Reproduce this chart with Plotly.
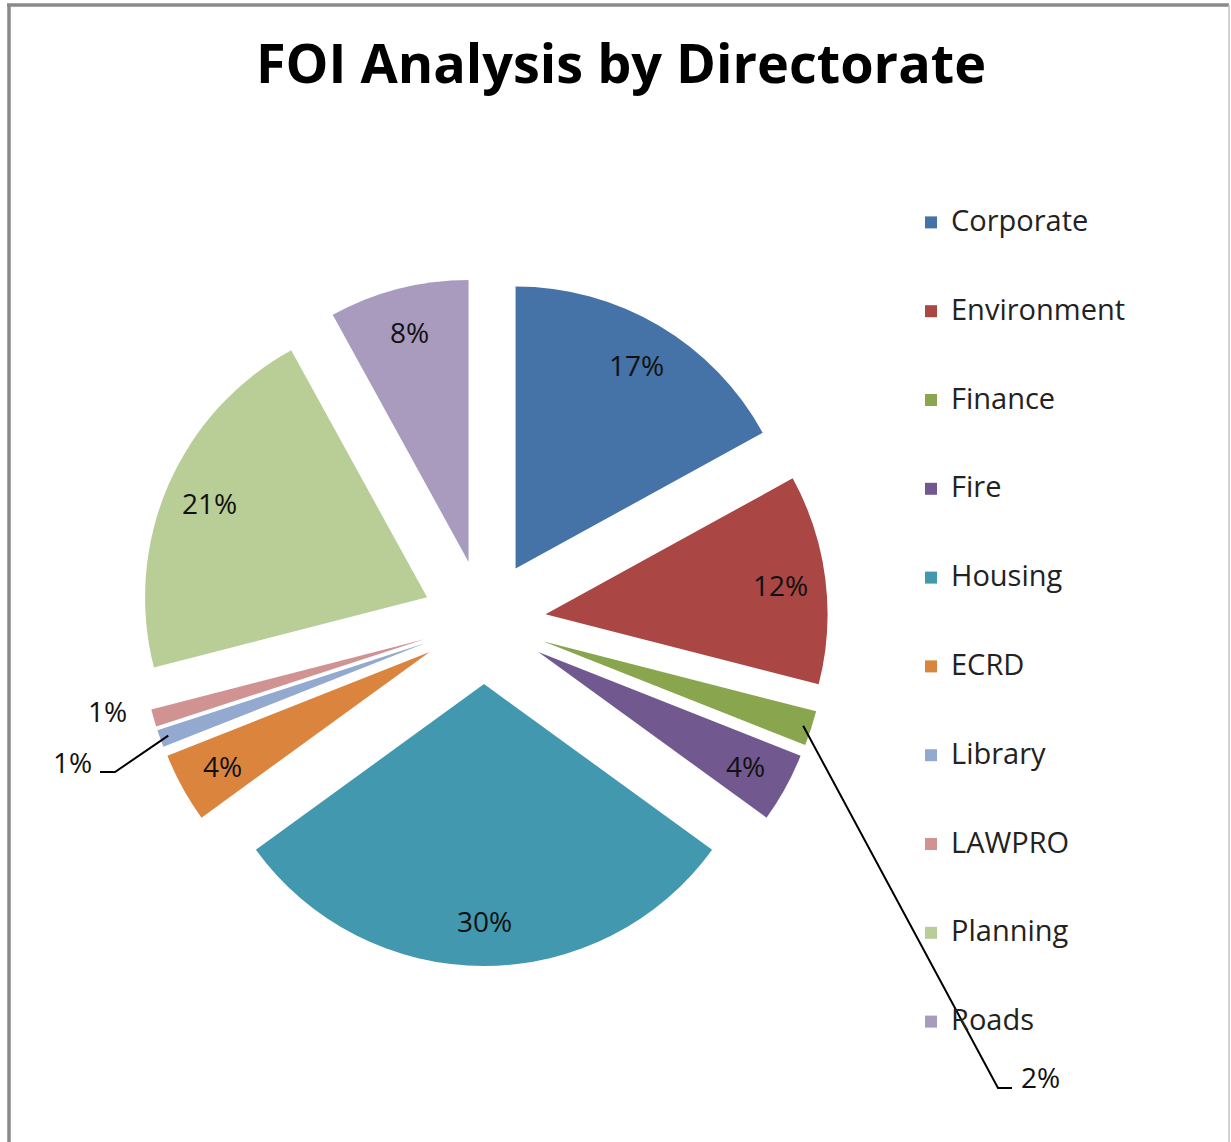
import math
import plotly.graph_objects as go

directorates = ["Corporate", "Environment", "Finance", "Fire", "Housing",
                "ECRD", "Library", "LAWPRO", "Planning", "Roads"]
share_pct = [17, 12, 2, 4, 30, 4, 1, 1, 21, 8]
slice_colors = ["#4572A7", "#AA4643", "#89A54E", "#71588F", "#4198AF",
                "#DB843D", "#93A9CF", "#D19392", "#B9CD96", "#A99BBD"]

# figure geometry in pixels (margins are zero, so paper == page)
W, H = 1231, 1142
PIE_CX, PIE_CY, PIE_R = 484, 622, 282
PULL = 0.22
LABEL_R = 0.84
FONT = "Open Sans"
LABEL_SIZE = 28

# labels Excel moved outside the thin slices: text position + leader elbow
outside_labels = {
    "Finance": dict(text_at=(1040, 1077), elbow=[(1012, 1088), (998, 1088)]),
    "Library": dict(text_at=(72, 762), elbow=[(100, 772), (115, 772)]),
    "LAWPRO": dict(text_at=(108, 711), elbow=None),
}


def px(x, y):
    return x / W, 1 - y / H


def slice_point(mid_deg, frac):
    # point along a slice's mid-angle, from the pie centre, incl. explosion
    d = PULL * PIE_R + frac * PIE_R
    a = math.radians(mid_deg)
    return PIE_CX + d * math.sin(a), PIE_CY - d * math.cos(a)


total = sum(share_pct)
span = 2 * PIE_R * (1 + PULL)
x0, y1 = px(PIE_CX - span / 2, PIE_CY - span / 2)
x1, y0 = px(PIE_CX + span / 2, PIE_CY + span / 2)

# blank lines above/below stretch the legend rows to Excel's spacing
legend_names = [
    f"&nbsp;<br><span style='font-size:29px'>{d}</span><br>&nbsp;"
    for d in directorates
]

fig = go.Figure(go.Pie(
    labels=legend_names,
    values=share_pct,
    sort=False,
    direction="clockwise",
    rotation=0,
    pull=[PULL] * len(share_pct),
    marker=dict(colors=slice_colors, line=dict(width=0)),
    textinfo="none",
    hoverinfo="skip",
    domain=dict(x=[x0, x1], y=[y0, y1]),
))

annotations = []
shapes = []
cum = 0
for name, v in zip(directorates, share_pct):
    mid = (cum + v / 2) / total * 360
    cum += v
    label = f"{round(v / total * 100)}%"
    if name in outside_labels:
        spec = outside_labels[name]
        lx, ly = spec["text_at"]
        if spec["elbow"]:
            tipx, tipy = slice_point(mid, 0.97)
            pts = spec["elbow"] + [(tipx, tipy)]
            path = "M " + " L ".join(
                f"{px(x, y)[0]:.5f},{px(x, y)[1]:.5f}" for x, y in pts)
            shapes.append(dict(type="path", path=path, xref="paper", yref="paper",
                               line=dict(color="black", width=2)))
    else:
        lx, ly = slice_point(mid, LABEL_R)
    ax_, ay_ = px(lx, ly)
    annotations.append(dict(x=ax_, y=ay_, xref="paper", yref="paper",
                            xanchor="center", yanchor="middle",
                            text=label, showarrow=False,
                            font=dict(size=LABEL_SIZE, color="#111", family=FONT)))

# chart-area border (left/top darker as in the source image)
top = px(0, 5)[1]
shapes.append(dict(type="line", xref="paper", yref="paper",
                   x0=px(9, 0)[0], x1=px(9, 0)[0], y0=top, y1=-0.05,
                   line=dict(color="#8a8a8a", width=3.5)))
shapes.append(dict(type="line", xref="paper", yref="paper",
                   x0=px(7, 0)[0], x1=px(1229, 0)[0], y0=top, y1=top,
                   line=dict(color="#8a8a8a", width=3.5)))
shapes.append(dict(type="line", xref="paper", yref="paper",
                   x0=px(1229, 0)[0], x1=px(1229, 0)[0], y0=top, y1=-0.05,
                   line=dict(color="#c4c4c4", width=1.5)))

lx0, ly0 = px(911, 173)
fig.update_layout(
    width=W, height=H,
    margin=dict(l=0, r=0, t=0, b=0),
    paper_bgcolor="white",
    plot_bgcolor="white",
    font=dict(family=FONT, color="black"),
    title=dict(text="<b>FOI Analysis by Directorate</b>",
               x=621 / W, xanchor="center",
               y=1 - 64 / H, yanchor="middle",
               font=dict(size=54, family=FONT, color="black")),
    showlegend=True,
    legend=dict(x=lx0, xanchor="left", y=ly0, yanchor="top",
                font=dict(size=22, family=FONT, color="#222"),
                bgcolor="rgba(0,0,0,0)"),
    annotations=annotations,
    shapes=shapes,
)

fig.write_html("out.html", config={"displayModeBar": False},
               post_script="document.body.style.margin = '0';")
